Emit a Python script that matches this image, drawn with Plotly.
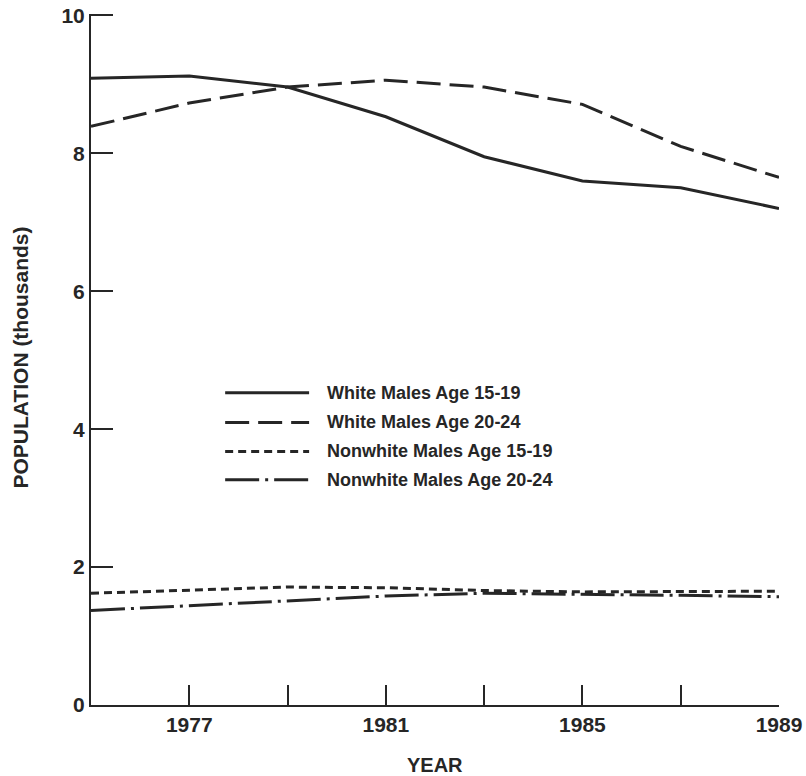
import plotly.graph_objects as go

years = [1975, 1977, 1979, 1981, 1983, 1985, 1987, 1989]
white_15_19 = [9.09, 9.12, 8.96, 8.53, 7.95, 7.60, 7.50, 7.20]
white_20_24 = [8.39, 8.73, 8.96, 9.06, 8.96, 8.71, 8.10, 7.65]
nonwhite_15_19 = [1.62, 1.66, 1.71, 1.70, 1.66, 1.64, 1.64, 1.65]
nonwhite_20_24 = [1.37, 1.44, 1.52, 1.58, 1.62, 1.61, 1.59, 1.57]

series_names = ["White Males Age 15-19", "White Males Age 20-24",
                "Nonwhite Males Age 15-19", "Nonwhite Males Age 20-24"]
x_tick_vals = [1977, 1979, 1981, 1983, 1985, 1987, 1989]
x_tick_text = ["1977", "", "1981", "", "1985", "", "1989"]
y_tick_vals = [0, 2, 4, 6, 8, 10]
x_title = "YEAR"
y_title = "POPULATION (thousands)"

INK = "#262626"
FONT = "Liberation Sans"
dashes = ["solid", "24px,9px", "8px,5px", "34px,6px,3px,6px"]
series = [white_15_19, white_20_24, nonwhite_15_19, nonwhite_20_24]

fig = go.Figure()
for name, vals, d in zip(series_names, series, dashes):
    fig.add_trace(go.Scatter(x=years, y=vals, mode="lines", name=name,
                             line=dict(color=INK, width=3, dash=d),
                             showlegend=False, hoverinfo="skip"))

# hand-drawn style legend inside the plot
leg_y = [0.452, 0.409, 0.367, 0.326]
for name, d, yy in zip(series_names, dashes, leg_y):
    fig.add_shape(type="line", xref="paper", yref="paper",
                  x0=0.195, x1=0.317, y0=yy, y1=yy,
                  line=dict(color=INK, width=3, dash=d))
    fig.add_annotation(xref="paper", yref="paper", x=0.340, y=yy,
                       text=name, showarrow=False, xanchor="left",
                       yanchor="middle",
                       font=dict(family=FONT, size=18, color=INK, weight="bold"))

# axis titles
fig.add_annotation(xref="paper", yref="paper", x=-0.103, y=0.503,
                   text=y_title, textangle=-90, showarrow=False,
                   xanchor="center", yanchor="middle",
                   font=dict(family=FONT, size=21, color=INK, weight="bold"))
fig.add_annotation(xref="paper", yref="paper", x=0.5, y=-0.087,
                   text=x_title, showarrow=False,
                   xanchor="center", yanchor="middle",
                   font=dict(family=FONT, size=20, color=INK, weight="bold"))

fig.update_layout(
    width=806, height=776,
    margin=dict(l=91, r=27, t=13.6, b=71),
    paper_bgcolor="white", plot_bgcolor="white",
    font=dict(family=FONT, color=INK),
    xaxis=dict(range=[1975, 1989], showgrid=False, zeroline=False,
               automargin=False, ticklabeloverflow="allow",
               showline=True, linecolor=INK, linewidth=2,
               ticks="inside", ticklen=20, tickwidth=2, tickcolor=INK,
               tickvals=x_tick_vals, ticktext=x_tick_text,
               tickfont=dict(family=FONT, size=21, color=INK, weight="bold")),
    yaxis=dict(range=[0, 10.02], showgrid=False, zeroline=False,
               automargin=False, ticklabeloverflow="allow",
               showline=True, linecolor=INK, linewidth=2,
               ticks="inside", ticklen=22, tickwidth=2, tickcolor=INK,
               tickvals=y_tick_vals,
               tickfont=dict(family=FONT, size=21, color=INK, weight="bold")),
)

fig.write_html(
    "out.html",
    config={"displayModeBar": False},
    post_script="document.body.style.margin='0';document.body.style.overflow='hidden';",
)
